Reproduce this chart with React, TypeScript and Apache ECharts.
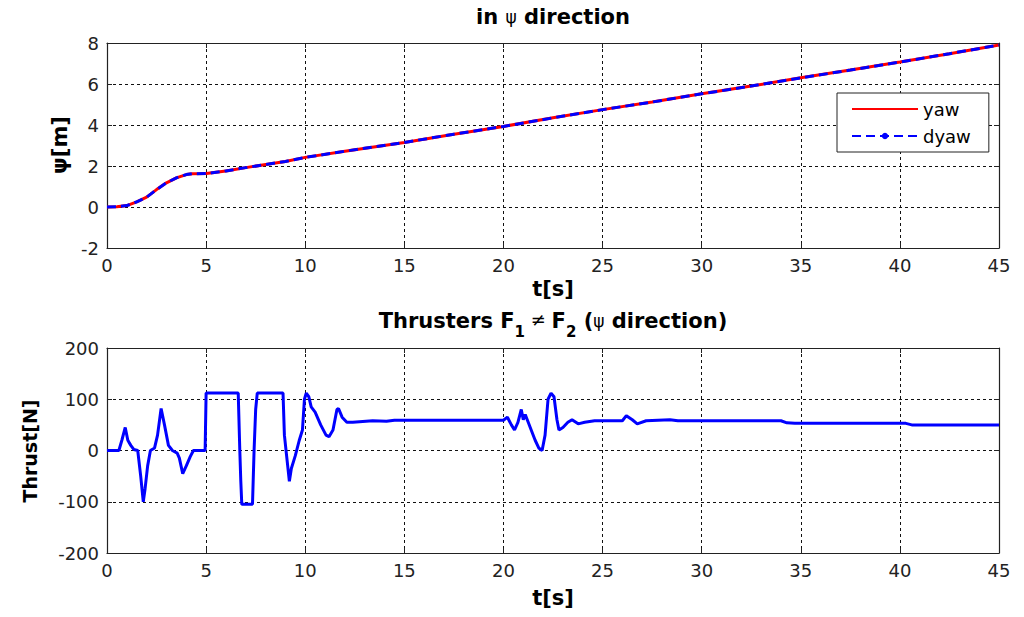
import React, { useEffect, useRef } from "react";
import * as echarts from "echarts";

const psiT = [0, 0.5, 1.0, 1.5, 2.0, 2.5, 3.0, 3.5, 4.0, 4.3, 5, 6, 7, 8, 9, 10, 12, 15, 17.5, 20, 22.5, 25, 27.5, 30, 32.5, 35, 37.5, 40, 42.5, 45];
const yawVals = [0, 0.01, 0.07, 0.25, 0.48, 0.85, 1.18, 1.42, 1.58, 1.62, 1.63, 1.76, 1.92, 2.07, 2.22, 2.42, 2.72, 3.15, 3.55, 3.93, 4.35, 4.75, 5.12, 5.52, 5.9, 6.3, 6.68, 7.07, 7.48, 7.9];
const dyawVals = [0, 0.01, 0.07, 0.25, 0.48, 0.85, 1.18, 1.42, 1.58, 1.62, 1.63, 1.76, 1.92, 2.07, 2.22, 2.42, 2.72, 3.15, 3.55, 3.93, 4.35, 4.75, 5.12, 5.52, 5.9, 6.3, 6.68, 7.07, 7.48, 7.9];

const thrustT = [
  0, 0.6, 0.75, 0.92, 1.05, 1.2, 1.35, 1.55, 1.7, 1.83, 1.92, 2.05, 2.19, 2.4, 2.55, 2.73, 2.9, 3.1, 3.3, 3.54,
  3.65, 3.82, 4.0, 4.2, 4.36, 4.95, 5.0, 6.62, 6.7, 6.75, 6.8, 7.34, 7.42, 7.5, 7.58, 8.88, 8.95, 9.06, 9.2, 9.3,
  9.5, 9.7, 9.86, 9.96, 10.05, 10.18, 10.3, 10.5, 10.78, 11.05, 11.2, 11.4, 11.6, 11.68, 11.86, 12.1, 12.4, 13.4, 14.1, 14.5,
  20.0, 20.2, 20.4, 20.56, 20.73, 20.9, 21.0, 21.1, 21.25, 21.4, 21.6, 21.78, 21.95, 22.1, 22.25, 22.4, 22.55, 22.7, 22.8, 23.0,
  23.25, 23.46, 23.77, 24.1, 24.6, 26.0, 26.2, 26.5, 26.75, 27.2, 28.4, 28.8, 34.0, 34.3, 34.7, 34.8, 40.3, 40.6, 45,
];
const thrustVals = [
  0, 0, 20, 45, 20, 10, 2, 0, -50, -100, -75, -30, 0, 5, 30, 82, 50, 10, 0, -5,
  -15, -45, -30, -12, 0, 0, 112, 112, 0, -60, -105, -105, 0, 80, 112, 112, 30, -10, -60, -35,
  -10, 20, 40, 100, 112, 105, 85, 75, 50, 30, 27, 40, 80, 82, 65, 55, 55, 58, 57, 59,
  59, 65, 50, 40, 55, 80, 60, 70, 55, 40, 20, 5, 0, 30, 100, 112, 105, 60, 40, 45,
  55, 60, 52, 55, 58, 58, 68, 60, 52, 58, 60, 58, 58, 54, 53, 53, 53, 50, 50,
];

const xTicks = [0, 5, 10, 15, 20, 25, 30, 35, 40, 45];
const psiRange = [-2, 8];
const thrustRange = [-200, 200];

const FONT = "DejaVu Sans";

function pairs(xs: number[], ys: number[]) {
  return xs.map((x, i) => [x, ys[i]]);
}

export default function App() {
  const ref = useRef<HTMLDivElement>(null);
  useEffect(() => {
    if (!ref.current) return;
    const chart = echarts.init(ref.current, undefined, { renderer: "svg" });
    const gridLine = { show: true, lineStyle: { color: "#111", type: [3, 3] as any, width: 1 } };
    const axisLine = { show: true, onZero: false, lineStyle: { color: "#222", width: 1.2 } };
    const tick = { show: true, inside: true, length: 5, lineStyle: { color: "#222" } };
    const label = { color: "#222", fontSize: 18, fontFamily: FONT, margin: 8 };
    const mkX = (grid: number, main: boolean) => ({
      type: "value",
      gridIndex: grid,
      position: main ? "bottom" : "top",
      min: 0,
      max: 45,
      interval: 5,
      axisLine,
      axisTick: tick,
      axisLabel: main ? { ...label, formatter: (v: number) => (xTicks.includes(v) ? String(v) : "") } : { show: false },
      splitLine: main ? gridLine : { show: false },
    });
    const mkY = (grid: number, main: boolean, range: number[], interval: number) => ({
      type: "value",
      gridIndex: grid,
      position: main ? "left" : "right",
      min: range[0],
      max: range[1],
      interval,
      axisLine,
      axisTick: tick,
      axisLabel: main ? label : { show: false },
      splitLine: main ? gridLine : { show: false },
    });
    const bold = { fontFamily: FONT, fontWeight: "bold", fill: "#000" };
    chart.setOption({
      animation: false,
      backgroundColor: "#fff",
      grid: [
        { left: 107, top: 43, width: 892, height: 205 },
        { left: 107, top: 348, width: 892, height: 205 },
      ],
      xAxis: [mkX(0, true), mkX(0, false), mkX(1, true), mkX(1, false)],
      yAxis: [
        mkY(0, true, psiRange, 2),
        mkY(0, false, psiRange, 2),
        mkY(1, true, thrustRange, 100),
        mkY(1, false, thrustRange, 100),
      ],
      legend: {
        data: [
          { name: "yaw", itemStyle: { color: "rgba(0,0,0,0)", borderWidth: 0 } },
          { name: "dyaw" },
        ],
        orient: "vertical",
        left: 837,
        top: 93,
        itemWidth: 66,
        itemHeight: 8,
        itemGap: 9,
        padding: [7, 18, 7, 14],
        backgroundColor: "#fff",
        borderColor: "#222",
        borderWidth: 1,
        borderRadius: 0,
        textStyle: { fontFamily: FONT, fontSize: 18, color: "#000" },
      },
      series: [
        {
          name: "yaw",
          type: "line",
          xAxisIndex: 0,
          yAxisIndex: 0,
          data: pairs(psiT, yawVals),
          symbol: "none",
          lineStyle: { color: "#ff0000", width: 3 },
          itemStyle: { color: "#ff0000" },
        },
        {
          name: "dyaw",
          type: "line",
          xAxisIndex: 0,
          yAxisIndex: 0,
          data: pairs(psiT, dyawVals),
          symbol: "circle",
          symbolSize: 6,
          showSymbol: false,
          lineStyle: { color: "#0000ff", width: 3, type: [9, 5] as any },
          itemStyle: { color: "#0000ff" },
        },
        {
          name: "thrust",
          type: "line",
          xAxisIndex: 2,
          yAxisIndex: 2,
          data: pairs(thrustT, thrustVals),
          symbol: "none",
          lineStyle: { color: "#0000ff", width: 3 },
        },
      ],
      graphic: [
        {
          type: "text",
          x: 553,
          y: 17,
          style: {
            text: "in {p|ψ} direction",
            ...bold,
            fontSize: 21,
            align: "center",
            verticalAlign: "middle",
            rich: { p: { fontFamily: FONT, fontSize: 17, fontWeight: "normal", fill: "#000" } },
          },
        },
        { type: "text", x: 553, y: 289, style: { text: "t[s]", ...bold, fontSize: 21, align: "center", verticalAlign: "middle" } },
        { type: "text", x: 60, y: 145, rotation: Math.PI / 2, style: { text: "ψ[m]", ...bold, fontSize: 21, align: "center", verticalAlign: "middle" } },
        {
          type: "text",
          x: 553,
          y: 322,
          style: {
            text: "{a|Thrusters F}{s|1}{n| ≠ }{a|F}{s|2}{a| (}{p|ψ}{a| direction)}",
            ...bold,
            fontSize: 21,
            align: "center",
            verticalAlign: "middle",
            rich: {
              a: { fontFamily: FONT, fontSize: 21, fontWeight: "bold", lineHeight: 24, verticalAlign: "top", fill: "#000" },
              n: { fontFamily: FONT, fontSize: 18, fontWeight: "normal", lineHeight: 24, verticalAlign: "top", fill: "#000" },
              p: { fontFamily: FONT, fontSize: 17, fontWeight: "normal", lineHeight: 24, verticalAlign: "top", padding: [2, 0, 0, 0], fill: "#000" },
              s: { fontFamily: FONT, fontSize: 15, fontWeight: "bold", lineHeight: 15, verticalAlign: "top", padding: [14, 0, 0, 0], fill: "#000" },
            },
          },
        },
        { type: "text", x: 30, y: 451, rotation: Math.PI / 2, style: { text: "Thrust[N]", ...bold, fontSize: 19, align: "center", verticalAlign: "middle" } },
        { type: "text", x: 553, y: 598, style: { text: "t[s]", ...bold, fontSize: 21, align: "center", verticalAlign: "middle" } },
      ],
    });
    return () => chart.dispose();
  }, []);
  return <div ref={ref} style={{ position: "fixed", left: 0, top: 0, width: 1024, height: 617 }} />;
}
